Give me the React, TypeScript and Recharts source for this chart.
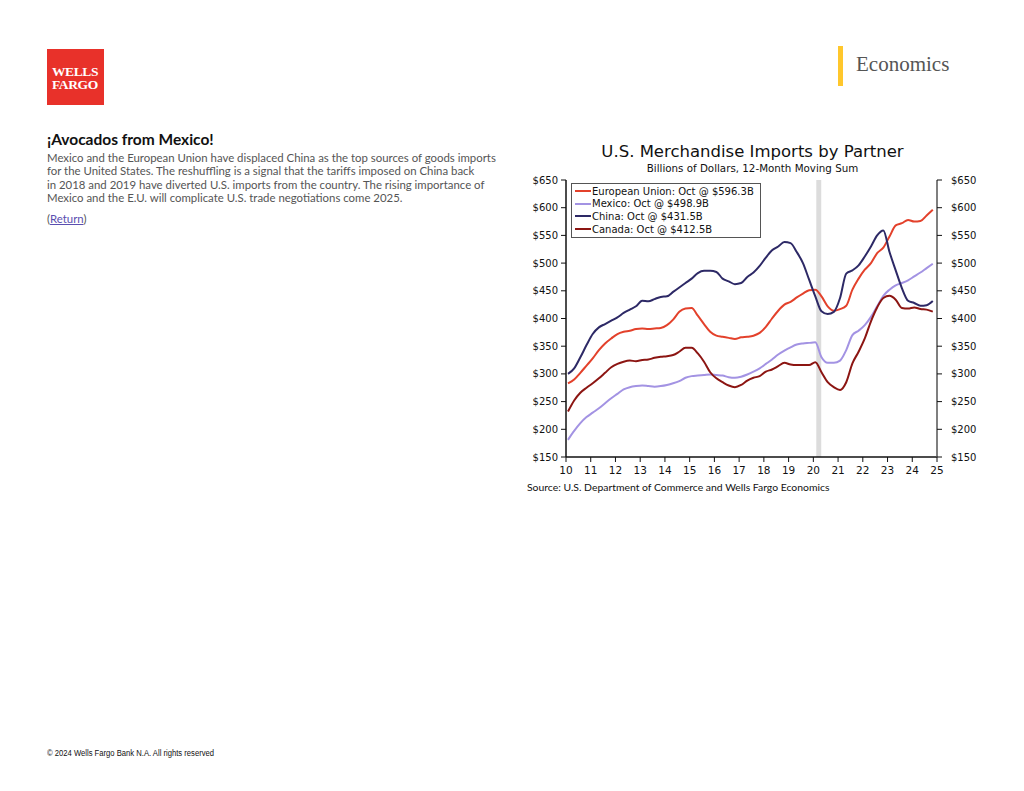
import React from 'react'
import { CartesianGrid, Legend, Line, LineChart, ReferenceArea, XAxis, YAxis } from 'recharts'

// 12-month moving sum of goods imports, billions of dollars, quarterly readings (Jan 2010 .. Oct 2024)
const quarters = Array.from({ length: 60 }, (_, i) => 2010 + i * 0.25 + 0.08)

const euValues = [
  283, 290, 302, 315, 328, 343, 355, 364, 372, 376, 378, 381, 382, 381, 382, 383,
  388, 398, 412, 418, 419, 405, 390, 376, 369, 367, 365, 363, 366, 367, 369, 374,
  385, 400, 414, 425, 430, 438, 445, 451, 452, 440, 422, 414, 417, 423, 452, 472,
  488, 500, 518, 528, 548, 568, 572, 578, 575, 576, 586, 596.3,
]
const mexicoValues = [
  181, 197, 211, 222, 230, 238, 247, 256, 264, 272, 276, 278, 279, 278, 277, 278,
  280, 283, 287, 293, 296, 297, 298, 299, 298, 297, 294, 293, 295, 299, 304, 310,
  318, 326, 335, 342, 348, 353, 355, 356, 357, 330, 320, 320, 324, 343, 370, 378,
  388, 403, 422, 441, 452, 460, 464, 469, 476, 483, 491, 498.9,
]
const chinaValues = [
  300, 310, 330, 352, 372, 384, 390, 396, 402, 410, 416, 422, 432, 431, 435, 439,
  440, 448, 456, 464, 472, 482, 486, 486, 484, 472, 467, 462, 464, 475, 483, 495,
  510, 523, 530, 538, 536, 520, 500, 470, 440, 413, 408, 412, 437, 481, 487, 496,
  512, 530, 550, 559, 520, 487, 455, 432, 428, 423, 424, 431.5,
]
const canadaValues = [
  232, 252, 266, 275, 283, 292, 302, 312, 318, 322, 324, 323, 325, 326, 329, 331,
  332, 334, 340, 347, 347, 337, 322, 303, 292, 285, 279, 276, 280, 288, 293, 296,
  304, 308, 314, 320, 317, 316, 316, 316, 321, 303, 285, 276, 271, 285, 319, 340,
  364, 395, 420, 437, 441, 434, 419, 418, 420, 417, 416, 412.5,
]

const yearTicks = [2010, 2011, 2012, 2013, 2014, 2015, 2016, 2017, 2018, 2019, 2020, 2021, 2022, 2023, 2024, 2025]
const dollarTicks = [150, 200, 250, 300, 350, 400, 450, 500, 550, 600, 650]

const series = [
  { key: 'eu', label: 'European Union: Oct @ $596.3B', color: '#e3412b' },
  { key: 'mexico', label: 'Mexico: Oct @ $498.9B', color: '#a393e3' },
  { key: 'china', label: 'China: Oct @ $431.5B', color: '#2d2966' },
  { key: 'canada', label: 'Canada: Oct @ $412.5B', color: '#8c1512' },
]

const data = quarters.map((t, i) => ({
  t,
  eu: euValues[i],
  mexico: mexicoValues[i],
  china: chinaValues[i],
  canada: canadaValues[i],
}))

const chartFont = '"DejaVu Sans", Verdana, sans-serif'
const bodyFont = 'Lato, "Open Sans", sans-serif'

function LegendBox() {
  return (
    <div style={{ border: '1px solid #555', background: '#fff', padding: '1px 6px 2px 3px', fontFamily: chartFont, fontSize: 10, color: '#111' }}>
      {series.map((s) => (
        <div key={s.key} style={{ display: 'flex', alignItems: 'center', height: 12.6 }}>
          <span style={{ display: 'inline-block', width: 16, height: 2, background: s.color, marginRight: 1 }} />
          <span>{s.label}</span>
        </div>
      ))}
    </div>
  )
}

export default function App() {
  return (
    <div style={{ position: 'relative', width: 1024, height: 791, margin: -8, background: '#fff', overflow: 'hidden' }}>
      {/* logo */}
      <div style={{ position: 'absolute', left: 47, top: 49, width: 57, height: 56, background: '#e8312a', color: '#fff', fontFamily: '"Liberation Serif", serif', fontWeight: 700, fontSize: 13.5, lineHeight: '13px', paddingLeft: 5, paddingTop: 16, boxSizing: 'border-box', letterSpacing: -0.4 }}>
        WELLS<br />FARGO
      </div>
      <div style={{ position: 'absolute', left: 838, top: 46, width: 5, height: 40, background: '#ffc72c' }} />
      <div style={{ position: 'absolute', left: 856, top: 52, fontFamily: '"Liberation Serif", serif', fontSize: 21, lineHeight: '24px', color: '#555' }}>
        Economics
      </div>

      {/* left text */}
      <div style={{ position: 'absolute', left: 47, top: 130, fontFamily: bodyFont, fontWeight: 700, fontSize: 15.5, lineHeight: '18px', color: '#111' }}>
        ¡Avocados from Mexico!
      </div>
      <div style={{ position: 'absolute', left: 47, top: 151, width: 480, fontFamily: bodyFont, fontSize: 11.4, lineHeight: '13.4px', color: '#555', whiteSpace: 'pre-line' }}>
        {'Mexico and the European Union have displaced China as the top sources of goods imports\nfor the United States. The reshuffling is a signal that the tariffs imposed on China back\nin 2018 and 2019 have diverted U.S. imports from the country. The rising importance of\nMexico and the E.U. will complicate U.S. trade negotiations come 2025.'}
      </div>
      <div style={{ position: 'absolute', left: 47, top: 212, fontFamily: bodyFont, fontSize: 11.4, lineHeight: '14px', color: '#555' }}>
        (<span style={{ color: '#5a4fb0', textDecoration: 'underline' }}>Return</span>)
      </div>

      {/* chart titles */}
      <div style={{ position: 'absolute', left: 505, top: 142, width: 495, textAlign: 'center', fontFamily: chartFont, fontSize: 16.5, lineHeight: '20px', color: '#111' }}>
        U.S. Merchandise Imports by Partner
      </div>
      <div style={{ position: 'absolute', left: 505, top: 162, width: 495, textAlign: 'center', fontFamily: chartFont, fontSize: 10.3, lineHeight: '12px', color: '#111' }}>
        Billions of Dollars, 12-Month Moving Sum
      </div>

      <div style={{ position: 'absolute', left: 505, top: 140 }}>
        <LineChart width={480} height={340} data={data} margin={{ top: 40, right: 3, bottom: 3, left: 11 }}>
          <CartesianGrid stroke="none" />
          <ReferenceArea yAxisId="left" x1={2020.12} x2={2020.32} y1={150} y2={650} fill="#dcdcdc" fillOpacity={1} stroke="none" />
          <XAxis
            dataKey="t"
            type="number"
            domain={[2010, 2025]}
            ticks={yearTicks}
            tickFormatter={(v: number) => String(v).slice(2)}
            height={20}
            tickSize={5}
            tickMargin={5}
            interval={0}
            allowDataOverflow
            axisLine={{ stroke: '#111', strokeWidth: 1.5 }}
            tickLine={{ stroke: '#111' }}
            tick={{ fill: '#111', fontSize: 10.5, fontFamily: chartFont }}
          />
          <YAxis
            yAxisId="left"
            domain={[150, 650]}
            ticks={dollarTicks}
            tickFormatter={(v: number) => `$${v}`}
            width={50}
            interval={0}
            tickSize={5}
            tickMargin={3}
            allowDataOverflow
            axisLine={{ stroke: '#111', strokeWidth: 1.5 }}
            tickLine={{ stroke: '#111' }}
            tick={{ fill: '#111', fontSize: 10, fontFamily: chartFont }}
          />
          <YAxis
            yAxisId="right"
            orientation="right"
            type="number"
            domain={[150, 650]}
            ticks={dollarTicks}
            tickFormatter={(v: number) => `$${v}`}
            width={45}
            interval={0}
            tickSize={5}
            tickMargin={9}
            allowDataOverflow
            axisLine={{ stroke: '#555', strokeWidth: 1.5 }}
            tickLine={{ stroke: '#111' }}
            tick={{ fill: '#111', fontSize: 10, fontFamily: chartFont }}
          />
          <Legend
            layout="vertical"
            align="center"
            verticalAlign="middle"
            content={() => <LegendBox />}
            wrapperStyle={{ left: 66, top: 43, width: 'auto', height: 'auto' }}
          />
          {series.map((s) => (
            <Line
              key={s.key}
              yAxisId="left"
              dataKey={s.key}
              name={s.label}
              type="monotone"
              stroke={s.color}
              strokeWidth={2}
              dot={false}
              isAnimationActive={false}
            />
          ))}
        </LineChart>
      </div>

      <div style={{ position: 'absolute', left: 527, top: 481, fontFamily: bodyFont, fontSize: 10.4, lineHeight: '12px', color: '#111' }}>
        Source: U.S. Department of Commerce and Wells Fargo Economics
      </div>

      <div style={{ position: 'absolute', left: 47, top: 747, fontFamily: '"Liberation Sans Narrow", "Liberation Sans", sans-serif', fontSize: 8.5, lineHeight: '12px', color: '#111', transform: 'scaleX(0.9)', transformOrigin: 'left center', whiteSpace: 'nowrap' }}>
        © 2024 Wells Fargo Bank N.A. All rights reserved
      </div>
    </div>
  )
}
